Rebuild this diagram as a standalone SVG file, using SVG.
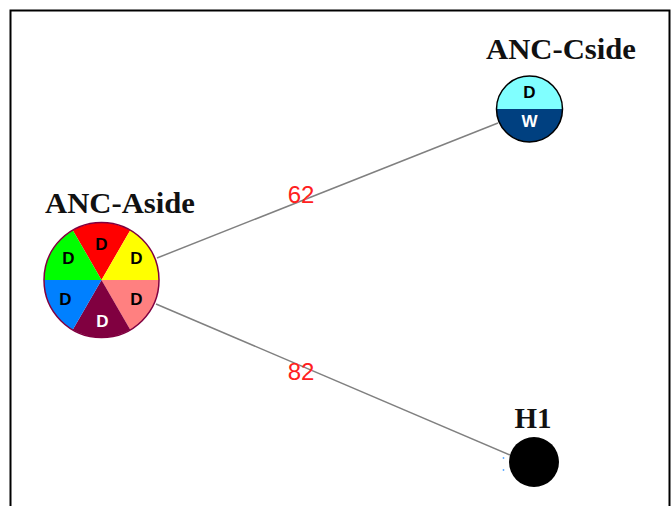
<svg xmlns="http://www.w3.org/2000/svg" width="671" height="506" viewBox="0 0 671 506">
  <style>
    .title { font-family: "Liberation Serif", "Times New Roman", serif; font-weight: bold; font-size: 29px; fill: #111; }
    .slice-label { font-family: "Liberation Sans", Arial, sans-serif; font-weight: bold; font-size: 17px; text-anchor: middle; }
    .edge { stroke: #808080; stroke-width: 1.5; fill: none; }
    .weight { font-family: "Liberation Sans", Arial, sans-serif; font-size: 24px; fill: #ff2020; text-anchor: middle; }
  </style>
  <rect x="0" y="0" width="671" height="506" fill="#ffffff"/>
  <!-- frame -->
  <path d="M10.5 510 V10.5 H669.5 V510" fill="none" stroke="#000" stroke-width="2"/>

  <g id="connectors">
    <line class="edge" x1="157" y1="258" x2="498" y2="123"/>
    <line class="edge" x1="156" y1="304" x2="510" y2="455"/>
    <text class="weight" x="301" y="203">62</text>
    <text class="weight" x="301" y="380">82</text>
  </g>

  <g id="ANC-Aside">
    <text class="title" x="45" y="213" textLength="150" lengthAdjust="spacingAndGlyphs">ANC-Aside</text>
    <g transform="translate(101.5,280)">
      <!-- six equal sectors, r = 57.5 -->
      <path d="M0 0 L-28.75 -49.8 A57.5 57.5 0 0 1 28.75 -49.8 Z" fill="#ff0000"/>
      <path d="M0 0 L28.75 -49.8 A57.5 57.5 0 0 1 57.5 0 Z" fill="#ffff00"/>
      <path d="M0 0 L57.5 0 A57.5 57.5 0 0 1 28.75 49.8 Z" fill="#ff8080"/>
      <path d="M0 0 L28.75 49.8 A57.5 57.5 0 0 1 -28.75 49.8 Z" fill="#800040"/>
      <path d="M0 0 L-28.75 49.8 A57.5 57.5 0 0 1 -57.5 0 Z" fill="#0080ff"/>
      <path d="M0 0 L-57.5 0 A57.5 57.5 0 0 1 -28.75 -49.8 Z" fill="#00ff00"/>
      <circle cx="0" cy="0" r="57.5" fill="none" stroke="#800040" stroke-width="1.5"/>
      <text class="slice-label" x="0" y="-30">D</text>
      <text class="slice-label" x="35" y="-16">D</text>
      <text class="slice-label" x="35" y="25">D</text>
      <text class="slice-label" x="1" y="47" fill="#ffffff">D</text>
      <text class="slice-label" x="-36" y="25">D</text>
      <text class="slice-label" x="-33" y="-16">D</text>
    </g>
  </g>

  <g id="ANC-Cside">
    <text class="title" x="486" y="59" textLength="150" lengthAdjust="spacingAndGlyphs">ANC-Cside</text>
    <g transform="translate(529.5,109)">
      <path d="M-33 0 A33 33 0 0 1 33 0 Z" fill="#80ffff"/>
      <path d="M-33 0 A33 33 0 0 0 33 0 Z" fill="#004080"/>
      <circle cx="0" cy="0" r="33" fill="none" stroke="#000" stroke-width="1.5"/>
      <text class="slice-label" x="0" y="-11">D</text>
      <text class="slice-label" x="0" y="18" fill="#ffffff">W</text>
    </g>
  </g>

  <g id="H1">
    <text class="title" x="533" y="428" text-anchor="middle" font-size="30">H1</text>
    <circle cx="534" cy="462" r="25" fill="#000"/>
    <circle cx="503.5" cy="458" r="0.9" fill="#5aa8ff"/>
    <circle cx="503.5" cy="470" r="0.9" fill="#5aa8ff"/>
  </g>
</svg>
